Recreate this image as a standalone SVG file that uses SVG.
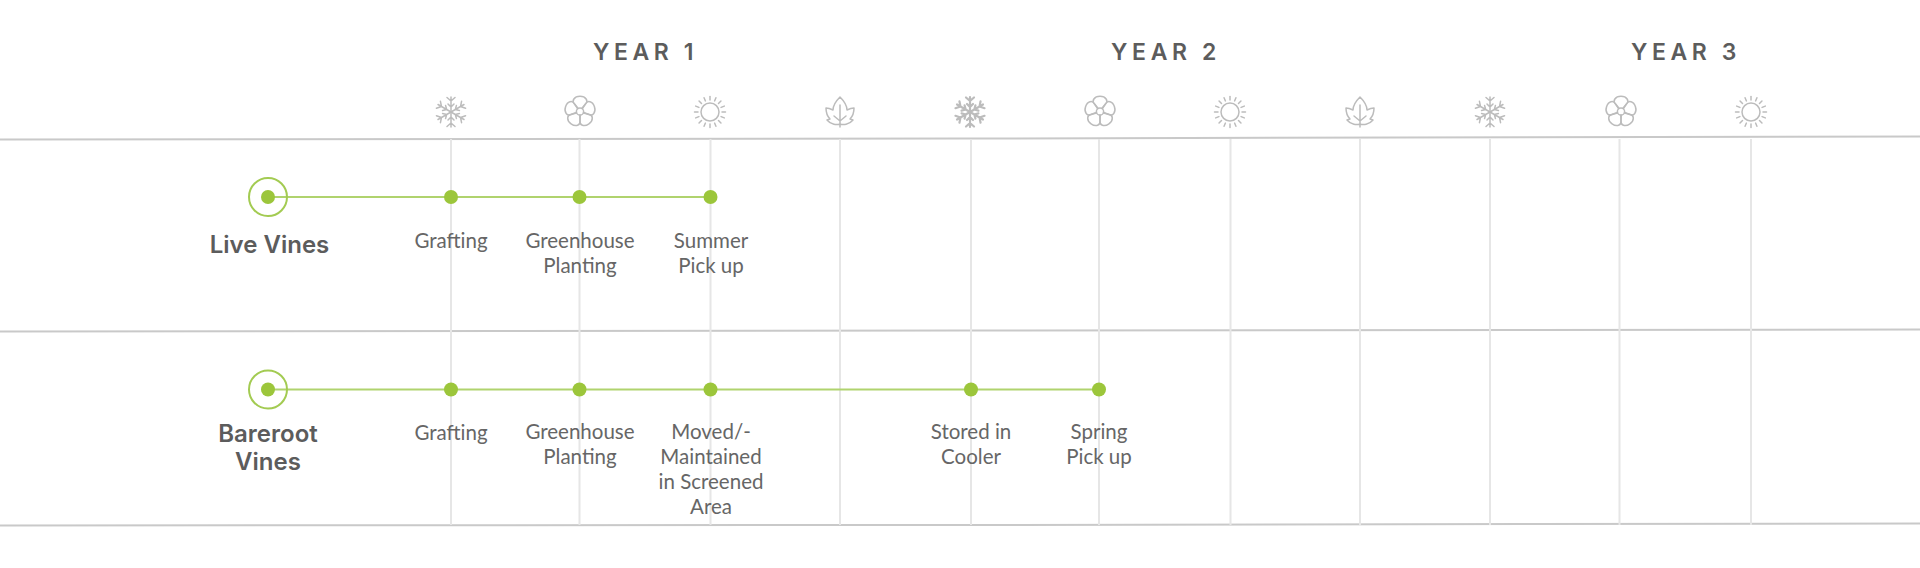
<svg xmlns="http://www.w3.org/2000/svg" width="1920" height="568" viewBox="0 0 1920 568">
<style>
.year{font:600 23px "Inter","Liberation Sans",sans-serif;letter-spacing:4.6px;fill:#5c5c5c;text-anchor:middle}
.lab{font:400 20.500px "Lato","Liberation Sans",sans-serif;fill:#666;text-anchor:middle}
.head{font:600 24px "Inter","Liberation Sans",sans-serif;fill:#5c5c5c;text-anchor:middle}
.h{stroke:#c9c9c9;stroke-width:2;fill:none}
.v{stroke:#e6e6e6;stroke-width:2;fill:none}
.g{stroke:#b0d36e;stroke-width:2;fill:none}
.d{fill:#9cc63b}
.ic{fill:none;stroke:#bcbcbc;stroke-width:1.5;stroke-linecap:round;stroke-linejoin:round}
.dk{stroke-width:2.200}
</style>
<defs>
<g id="snow">
<path d="M0-15V15M0-11L-4-14.500M0-11L4-14.500M0 11L-4 14.500M0 11L4 14.500M0-5L-3-8M0-5L3-8M0 5L-3 8M0 5L3 8"/>
<path transform="rotate(60)" d="M0-15V15M0-11L-4-14.500M0-11L4-14.500M0 11L-4 14.500M0 11L4 14.500M0-5L-3-8M0-5L3-8M0 5L-3 8M0 5L3 8"/>
<path transform="rotate(120)" d="M0-15V15M0-11L-4-14.500M0-11L4-14.500M0 11L-4 14.500M0 11L4 14.500M0-5L-3-8M0-5L3-8M0 5L-3 8M0 5L3 8"/>
</g>
<g id="flower">
<circle r="3.600"/>
<path id="pet" d="M-2-3.200L-5.600-7.700C-8.500-10.500-6-15.200 0-15.200C6-15.200 8.500-10.500 5.600-7.700L2-3.200"/>
<use href="#pet" transform="rotate(72)"/><use href="#pet" transform="rotate(144)"/><use href="#pet" transform="rotate(216)"/><use href="#pet" transform="rotate(288)"/>
</g>
<g id="sun">
<circle r="9"/>
<path id="r" d="M0-12V-15.500"/>
<use href="#r" transform="rotate(22.500)"/><use href="#r" transform="rotate(45)"/><use href="#r" transform="rotate(67.500)"/><use href="#r" transform="rotate(90)"/><use href="#r" transform="rotate(112.500)"/><use href="#r" transform="rotate(135)"/><use href="#r" transform="rotate(157.500)"/><use href="#r" transform="rotate(180)"/><use href="#r" transform="rotate(202.500)"/><use href="#r" transform="rotate(225)"/><use href="#r" transform="rotate(247.500)"/><use href="#r" transform="rotate(270)"/><use href="#r" transform="rotate(292.500)"/><use href="#r" transform="rotate(315)"/><use href="#r" transform="rotate(337.500)"/>
</g>
<g id="leaf">
<path d="M0 15V-7M0-15C-4-11-7-7-7-2C-9-3-11-4-14-4C-14 1-12 5-10 7L-13 8C-9 13-3 13 0 12C3 13 9 13 13 8L10 7C12 5 14 1 14-4C11-4 9-3 7-2C7-7 4-11 0-15ZM0 9L-6 4M0 9L6 4"/>
</g>
</defs>
<g id="rows" class="h">
<path d="M0 139.500L960 138.500L1920 136.500"/>
<path d="M0 331.500L960 330.500L1920 329.500"/>
<path d="M0 525.500L960 525L1920 523.500"/>
</g>
<g id="grid" class="v">
<path d="M451 139V525M579.500 139V525M710.500 139V525M840 139V525M971 139V525M1099 139V525M1230.500 139V525M1360 139V525M1490 139V525M1619.500 139V525M1751 139V525"/>
</g>
<g id="headers">
<text class="year" x="645.500" y="60">YEAR 1</text>
<text class="year" x="1166" y="60">YEAR 2</text>
<text class="year" x="1686" y="60">YEAR 3</text>
</g>
<g id="seasons" class="ic">
<use href="#snow" x="451" y="112"/>
<use href="#flower" x="580" y="111.500"/>
<use href="#sun" x="710" y="112"/>
<use href="#leaf" x="840" y="112"/>
<use href="#snow" x="970" y="112" class="dk"/>
<use href="#flower" x="1100" y="111.500"/>
<use href="#sun" x="1230" y="112"/>
<use href="#leaf" x="1360" y="112"/>
<use href="#snow" x="1490" y="112"/>
<use href="#flower" x="1621" y="111.500"/>
<use href="#sun" x="1751" y="112"/>
</g>
<g id="connectors" class="g">
<path d="M268 197H710.500"/>
<path d="M268 389.500H1099"/>
</g>
<g id="live-vines">
<circle cx="268" cy="197" r="19" fill="none" stroke="#a3cb52" stroke-width="2"/>
<circle class="d" cx="268" cy="197" r="7"/>
<text class="head" x="269.500" y="253">Live Vines</text>
</g>
<g id="bareroot-vines">
<circle cx="268" cy="389.500" r="19" fill="none" stroke="#a3cb52" stroke-width="2"/>
<circle class="d" cx="268" cy="389.500" r="7"/>
<text class="head"><tspan x="268" y="442">Bareroot</tspan><tspan x="268" y="470">Vines</tspan></text>
</g>
<g id="l-grafting"><circle class="d" cx="451" cy="197" r="7"/><text class="lab" x="451" y="248">Grafting</text></g>
<g id="l-greenhouse"><circle class="d" cx="579.500" cy="197" r="7"/><text class="lab"><tspan x="580" y="248">Greenhouse</tspan><tspan x="580" y="273">Planting</tspan></text></g>
<g id="l-summer"><circle class="d" cx="710.500" cy="197" r="7"/><text class="lab"><tspan x="711" y="248">Summer</tspan><tspan x="711" y="273">Pick up</tspan></text></g>
<g id="b-grafting"><circle class="d" cx="451" cy="389.500" r="7"/><text class="lab" x="451" y="440">Grafting</text></g>
<g id="b-greenhouse"><circle class="d" cx="579.500" cy="389.500" r="7"/><text class="lab"><tspan x="580" y="439">Greenhouse</tspan><tspan x="580" y="464">Planting</tspan></text></g>
<g id="b-moved"><circle class="d" cx="710.500" cy="389.500" r="7"/><text class="lab"><tspan x="711" y="439">Moved/-</tspan><tspan x="711" y="464">Maintained</tspan><tspan x="711" y="489">in Screened</tspan><tspan x="711" y="514">Area</tspan></text></g>
<g id="b-stored"><circle class="d" cx="971" cy="389.500" r="7"/><text class="lab"><tspan x="971" y="439">Stored in</tspan><tspan x="971" y="464">Cooler</tspan></text></g>
<g id="b-spring"><circle class="d" cx="1099" cy="389.500" r="7"/><text class="lab"><tspan x="1099" y="439">Spring</tspan><tspan x="1099" y="464">Pick up</tspan></text></g>
</svg>
